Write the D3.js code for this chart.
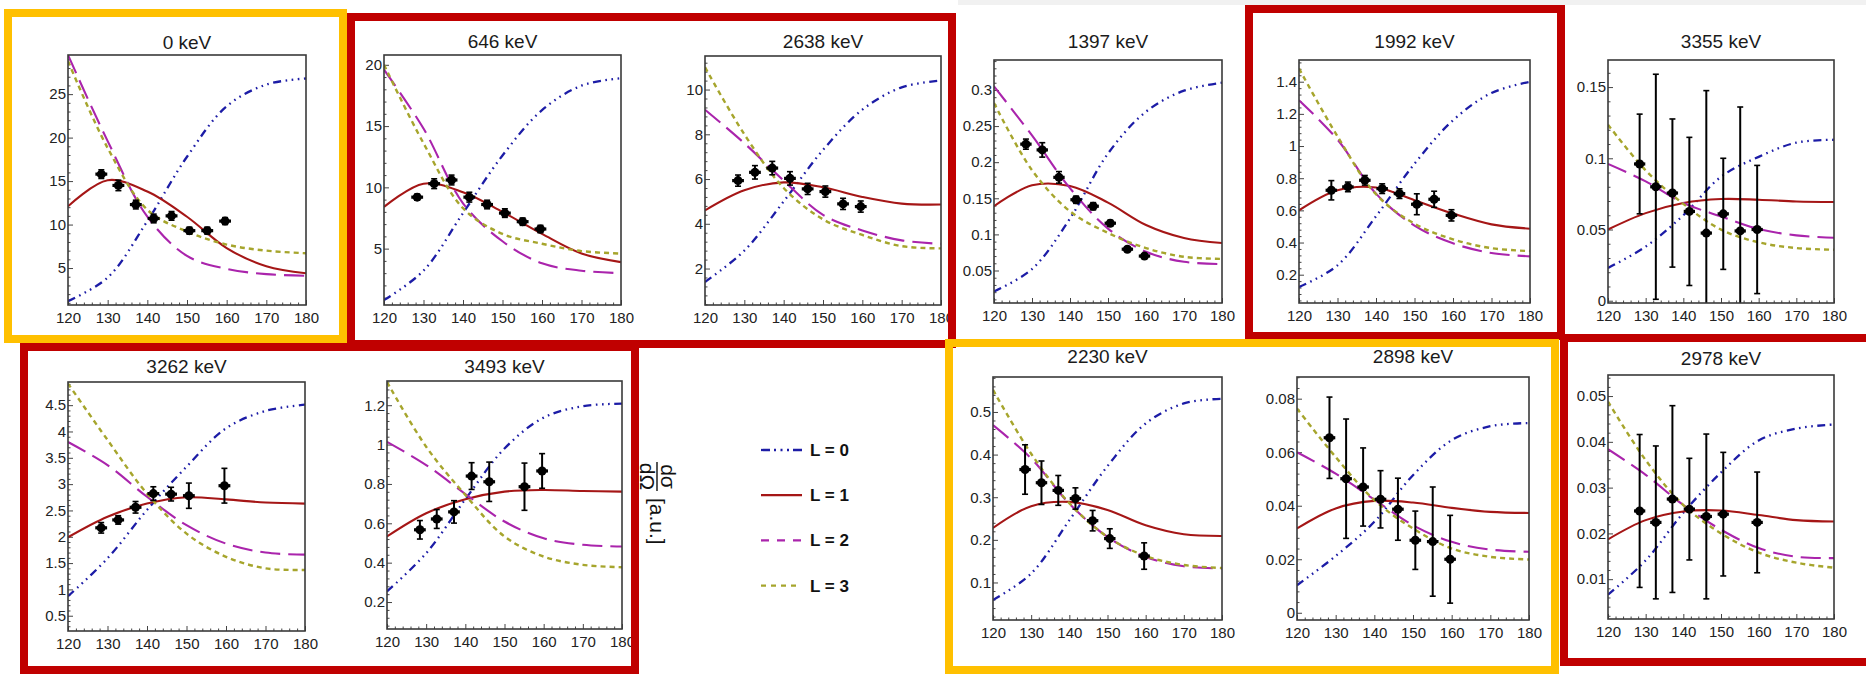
<!DOCTYPE html>
<html><head><meta charset="utf-8">
<script src="https://cdn.jsdelivr.net/npm/d3@7"></script>
<style>body{margin:0;background:#fff}svg{display:block}</style>
</head><body>
<svg id="c" width="1866" height="674"></svg>
<script>
// ---------- data ----------
const curveAngles = [120,130,140,150,160,170,180];
const xTicks = [120,130,140,150,160,170,180];
const xAll   = [128.4,132.7,137.1,141.6,146.1,150.6,155.1,159.6];
const xNo155 = [128.4,132.7,137.1,141.6,146.1,150.6,159.6];
const xNo150 = [128.4,132.7,137.1,141.6,146.1,155.1,159.6];
const xErr = 1.5;
const legendLabels = ["L = 0","L = 1","L = 2","L = 3"];

// 0 keV
const t0 = "0 keV";
const d0_y = [15.8,14.5,12.3,10.7,11.0,9.3,9.3,10.4];
const d0_e = [0.5,0.6,0.5,0.5,0.5,0.4,0.4,0.4];
const d0_L0 = [1.2,3.9,10.4,17.8,23.6,26.1,26.8];
const d0_L1 = [12.1,15.1,13.8,10.9,7.3,5.2,4.4];
const d0_L2 = [29.5,19.6,10.9,6.4,4.9,4.3,4.1];
const d0_L3 = [28.8,18.8,11.7,9.2,7.7,7.0,6.7];
const d0_ticks = [5,10,15,20,25];
const d0_dom = [0.75,29.5];

// 646 keV
const t646 = "646 keV";
const d646_y = [9.2,10.3,10.6,9.2,8.6,7.9,7.2,6.6];
const d646_e = [0.25,0.4,0.4,0.4,0.35,0.35,0.3,0.3];
const d646_L0 = [0.8,3.2,7.9,12.6,16.3,18.3,18.9];
const d646_L1 = [8.4,10.3,9.6,8.0,6.2,4.6,3.9];
const d646_L2 = [19.6,14.8,8.7,5.6,3.8,3.2,3.0];
const d646_L3 = [20.0,13.6,8.3,6.2,5.4,4.8,4.6];
const d646_ticks = [5,10,15,20];
const d646_dom = [0.4,20.8];

// 2638 keV
const t2638 = "2638 keV";
const d2638_y = [5.93,6.30,6.49,6.03,5.56,5.44,4.89,4.77];
const d2638_e = [0.25,0.3,0.3,0.3,0.25,0.25,0.25,0.25];
const d2638_L0 = [1.4,2.8,5.0,7.3,9.1,10.1,10.4];
const d2638_L1 = [4.6,5.5,5.85,5.63,5.2,4.9,4.86];
const d2638_L2 = [9.1,7.6,5.93,4.4,3.7,3.26,3.1];
const d2638_L3 = [11.0,8.0,5.6,4.2,3.5,3.0,2.9];
const d2638_ticks = [2,4,6,8,10];
const d2638_dom = [0.37,11.5];

// 1397 keV
const t1397 = "1397 keV";
const d1397_y = [0.225,0.217,0.179,0.148,0.139,0.1155,0.0795,0.070];
const d1397_e = [0.007,0.01,0.008,0.005,0.005,0.004,0.003,0.003];
const d1397_L0 = [0.021,0.052,0.122,0.212,0.270,0.299,0.310];
const d1397_L1 = [0.139,0.168,0.167,0.144,0.113,0.095,0.088];
const d1397_L2 = [0.305,0.237,0.164,0.108,0.076,0.062,0.059];
const d1397_L3 = [0.282,0.189,0.132,0.102,0.081,0.069,0.066];
const d1397_ticks = [0.05,0.1,0.15,0.2,0.25,0.3];
const d1397_dom = [0.005,0.3415];

// 1992 keV
const t1992 = "1992 keV";
const d1992_y = [0.725,0.746,0.787,0.735,0.704,0.638,0.669,0.569];
const d1992_e = [0.06,0.03,0.03,0.03,0.03,0.065,0.05,0.035];
const d1992_L0 = [0.123,0.258,0.563,0.89,1.16,1.33,1.40];
const d1992_L1 = [0.60,0.725,0.742,0.663,0.58,0.513,0.486];
const d1992_L2 = [1.285,1.04,0.704,0.505,0.395,0.335,0.314];
const d1992_L3 = [1.482,1.06,0.700,0.517,0.42,0.365,0.347];
const d1992_ticks = [0.2,0.4,0.6,0.8,1,1.2,1.4];
const d1992_dom = [0.024,1.535];

// 3355 keV
const t3355 = "3355 keV";
const d3355_y = [0.096,0.080,0.0756,0.0627,0.0475,0.061,0.049,0.050];
const d3355_e = [0.035,0.079,0.052,0.052,0.1,0.039,0.087,0.045];
const d3355_L0 = [0.023,0.038,0.060,0.087,0.101,0.111,0.113];
const d3355_L1 = [0.050,0.0615,0.0686,0.0714,0.0709,0.0697,0.0693];
const d3355_L2 = [0.096,0.0838,0.0686,0.0592,0.0503,0.0459,0.0442];
const d3355_L3 = [0.1236,0.0915,0.068,0.0499,0.041,0.037,0.0358];
const d3355_ticks = [0,0.05,0.1,0.15];
const d3355_dom = [-0.0016,0.169];

// 3262 keV
const t3262 = "3262 keV";
const d3262_y = [2.17,2.32,2.56,2.82,2.81,2.78,2.97];
const d3262_e = [0.1,0.08,0.11,0.13,0.13,0.24,0.33];
const d3262_L0 = [0.87,1.59,2.51,3.33,4.06,4.39,4.51];
const d3262_L1 = [1.99,2.38,2.63,2.75,2.71,2.65,2.63];
const d3262_L2 = [3.80,3.36,2.76,2.22,1.87,1.70,1.66];
const d3262_L3 = [4.91,3.84,2.82,2.06,1.62,1.40,1.37];
const d3262_ticks = [0.5,1,1.5,2,2.5,3,3.5,4,4.5];
const d3262_dom = [0.21,4.94];

// 3493 keV
const t3493 = "3493 keV";
const d3493_y = [0.567,0.622,0.658,0.840,0.811,0.786,0.866];
const d3493_e = [0.047,0.048,0.057,0.068,0.1,0.12,0.088];
const d3493_L0 = [0.254,0.448,0.722,0.980,1.137,1.195,1.208];
const d3493_L1 = [0.533,0.651,0.722,0.761,0.769,0.764,0.761];
const d3493_L2 = [1.014,0.896,0.749,0.609,0.524,0.491,0.482];
const d3493_L3 = [1.318,0.989,0.744,0.533,0.431,0.389,0.377];
const d3493_ticks = [0.2,0.4,0.6,0.8,1,1.2];
const d3493_dom = [0.063,1.323];

// 2230 keV
const t2230 = "2230 keV";
const d2230_y = [0.365,0.334,0.316,0.297,0.245,0.203,0.162];
const d2230_e = [0.058,0.051,0.035,0.025,0.024,0.023,0.031];
const d2230_L0 = [0.059,0.121,0.246,0.373,0.473,0.52,0.531];
const d2230_L1 = [0.228,0.279,0.289,0.27,0.234,0.213,0.209];
const d2230_L2 = [0.469,0.391,0.285,0.207,0.16,0.138,0.133];
const d2230_L3 = [0.552,0.402,0.286,0.207,0.162,0.141,0.134];
const d2230_ticks = [0.1,0.2,0.3,0.4,0.5];
const d2230_dom = [0.012,0.582];

// 2898 keV
const t2898 = "2898 keV";
const d2898_y = [0.0654,0.0501,0.047,0.0424,0.0387,0.0271,0.0266,0.020];
const d2898_e = [0.0152,0.0223,0.0146,0.0107,0.0116,0.0109,0.0204,0.0164];
const d2898_L0 = [0.0103,0.0212,0.034,0.0514,0.0645,0.0697,0.0709];
const d2898_L1 = [0.0315,0.039,0.0418,0.0412,0.0392,0.0377,0.0373];
const d2898_L2 = [0.060,0.052,0.0423,0.0327,0.0265,0.0236,0.0228];
const d2898_L3 = [0.0763,0.0582,0.0421,0.0315,0.024,0.0209,0.0199];
const d2898_ticks = [0,0.02,0.04,0.06,0.08];
const d2898_dom = [-0.0027,0.0881];

// 2978 keV
const t2978 = "2978 keV";
const d2978_y = [0.0249,0.0224,0.0275,0.0253,0.0237,0.0242,0.0224];
const d2978_e = [0.0167,0.0167,0.0204,0.0111,0.018,0.0135,0.011];
const d2978_L0 = [0.0066,0.0141,0.0245,0.0333,0.0403,0.0429,0.0438];
const d2978_L1 = [0.0187,0.0229,0.0248,0.025,0.024,0.0229,0.0226];
const d2978_L2 = [0.0384,0.0328,0.0262,0.0208,0.0168,0.0149,0.0146];
const d2978_L3 = [0.0488,0.036,0.0262,0.02,0.0158,0.0136,0.0125];
const d2978_ticks = [0.01,0.02,0.03,0.04,0.05];
const d2978_dom = [0.0013,0.0546];

// ---------- layout & style (not data) ----------
const panels = [
  {title:t0,    x:xAll,   y:d0_y,    e:d0_e,    L:[d0_L0,d0_L1,d0_L2,d0_L3],             ticks:d0_ticks,    dom:d0_dom,    rect:[68,306,55,305],   ty:49},
  {title:t646,  x:xAll,   y:d646_y,  e:d646_e,  L:[d646_L0,d646_L1,d646_L2,d646_L3],     ticks:d646_ticks,  dom:d646_dom,  rect:[384,621,55,305],  ty:48},
  {title:t2638, x:xAll,   y:d2638_y, e:d2638_e, L:[d2638_L0,d2638_L1,d2638_L2,d2638_L3], ticks:d2638_ticks, dom:d2638_dom, rect:[705,941,56,305],  ty:48},
  {title:t1397, x:xAll,   y:d1397_y, e:d1397_e, L:[d1397_L0,d1397_L1,d1397_L2,d1397_L3], ticks:d1397_ticks, dom:d1397_dom, rect:[994,1222,60,303], ty:48},
  {title:t1992, x:xAll,   y:d1992_y, e:d1992_e, L:[d1992_L0,d1992_L1,d1992_L2,d1992_L3], ticks:d1992_ticks, dom:d1992_dom, rect:[1299,1530,60,303],ty:48},
  {title:t3355, x:xAll,   y:d3355_y, e:d3355_e, L:[d3355_L0,d3355_L1,d3355_L2,d3355_L3], ticks:d3355_ticks, dom:d3355_dom, rect:[1608,1834,60,303],ty:48},
  {title:t3262, x:xNo155, y:d3262_y, e:d3262_e, L:[d3262_L0,d3262_L1,d3262_L2,d3262_L3], ticks:d3262_ticks, dom:d3262_dom, rect:[68,305,382,631],  ty:373},
  {title:t3493, x:xNo150, y:d3493_y, e:d3493_e, L:[d3493_L0,d3493_L1,d3493_L2,d3493_L3], ticks:d3493_ticks, dom:d3493_dom, rect:[387,622,381,629], ty:373},
  {title:t2230, x:xNo155, y:d2230_y, e:d2230_e, L:[d2230_L0,d2230_L1,d2230_L2,d2230_L3], ticks:d2230_ticks, dom:d2230_dom, rect:[993,1222,377,620],ty:363},
  {title:t2898, x:xAll,   y:d2898_y, e:d2898_e, L:[d2898_L0,d2898_L1,d2898_L2,d2898_L3], ticks:d2898_ticks, dom:d2898_dom, rect:[1297,1529,377,620],ty:363},
  {title:t2978, x:xNo155, y:d2978_y, e:d2978_e, L:[d2978_L0,d2978_L1,d2978_L2,d2978_L3], ticks:d2978_ticks, dom:d2978_dom, rect:[1608,1834,375,619],ty:365}
];
const curveStyles = [
  {color:"#1c1ca6", dash:"8,4.5,1.6,4.5,1.6,4.5,1.6,4.5", width:2.3, legDash:"9,4,2,4.5,2,4.5,2,4"},
  {color:"#a51616", dash:null,          width:2.1, legDash:null},
  {color:"#aa24ac", dash:"20,8",        width:2.1, legDash:"8,8"},
  {color:"#a6a52c", dash:"5,4",         width:2.4, legDash:"5,5"}
];
const frames = [
  {c:"#ffc000", x0:8,    y0:13,  x1:343,  y1:339},
  {c:"#c00000", x0:351,  y0:17,  x1:952,  y1:344},
  {c:"#c00000", x0:1249, y0:9,   x1:1561, y1:336},
  {c:"#c00000", x0:24,   y0:347, x1:635,  y1:670},
  {c:"#ffc000", x0:949,  y0:343, x1:1555, y1:670},
  {c:"#c00000", x0:1564, y0:338, x1:1872, y1:662}
];
const FONT = "'Liberation Sans', Arial, Helvetica, sans-serif";

const svg = d3.select("#c");
const defs = svg.append("defs");
svg.append("rect").attr("x",958).attr("y",0).attr("width",908).attr("height",5).attr("fill","#f1f1f1");

function minorTicks(domain, majors){
  const step = (majors[1]-majors[0])/5;
  const a = Math.ceil(domain[0]/step - 1e-9), b = Math.floor(domain[1]/step + 1e-9);
  return d3.range(a,b+1).map(k=>+(k*step).toFixed(8))
    .filter(v=>!majors.some(m=>Math.abs(m-v)<step*1e-3));
}

panels.forEach((p,i)=>{
  const [x0,x1,y0,y1] = p.rect;
  const x = d3.scaleLinear().domain([120,180]).range([x0,x1]);
  const y = d3.scaleLinear().domain(p.dom).range([y1,y0]);
  const g = svg.append("g");
  const cid = "clip"+i;
  defs.append("clipPath").attr("id",cid).append("rect")
    .attr("x",x0).attr("y",y0).attr("width",x1-x0).attr("height",y1-y0);

  g.append("text").attr("x",(x0+x1)/2).attr("y",p.ty).attr("text-anchor","middle")
    .attr("font-family",FONT).attr("font-size",19).attr("fill","#1b1b1b").text(p.title);

  const xa = g.append("g").attr("transform",`translate(0,${y1})`)
    .call(d3.axisBottom(x).tickValues(xTicks).tickSize(-5).tickPadding(7).tickFormat(d=>String(d)));
  const xm = g.append("g").attr("transform",`translate(0,${y1})`)
    .call(d3.axisBottom(x).tickValues(minorTicks([120,180],xTicks)).tickSize(-2.5).tickFormat(""));
  const ya = g.append("g").attr("transform",`translate(${x0},0)`)
    .call(d3.axisLeft(y).tickValues(p.ticks).tickSize(-5).tickPadding(2).tickFormat(d=>String(d)));
  const ym = g.append("g").attr("transform",`translate(${x0},0)`)
    .call(d3.axisLeft(y).tickValues(minorTicks(p.dom,p.ticks)).tickSize(-2.5).tickFormat(""));
  [xa,xm,ya,ym].forEach(a=>{
    a.select(".domain").remove();
    a.selectAll("line").attr("stroke","#444").attr("stroke-width",1);
    a.selectAll("text").attr("font-family",FONT).attr("font-size",15).attr("fill","#222");
  });

  const cg = g.append("g").attr("clip-path",`url(#${cid})`);
  p.L.forEach((vals,k)=>{
    const st = curveStyles[k];
    const line = d3.line().x(d=>x(d[0])).y(d=>y(d[1])).curve(d3.curveCatmullRom.alpha(0.5));
    cg.append("path").attr("d",line(curveAngles.map((a,j)=>[a,vals[j]])))
      .attr("fill","none").attr("stroke",st.color).attr("stroke-width",st.width)
      .attr("stroke-dasharray",st.dash);
  });

  const dg = g.append("g").attr("clip-path",`url(#${cid})`);
  p.x.forEach((a,j)=>{
    const v = p.y[j], e = p.e[j];
    const cx = x(a), cy = y(v), yt = y(v+e), yb = y(v-e);
    dg.append("line").attr("x1",cx).attr("x2",cx).attr("y1",yt).attr("y2",yb)
      .attr("stroke","#000").attr("stroke-width",2);
    [yt,yb].forEach(yy=>dg.append("line").attr("x1",cx-3).attr("x2",cx+3).attr("y1",yy).attr("y2",yy)
      .attr("stroke","#000").attr("stroke-width",1.6));
    dg.append("line").attr("x1",x(a-xErr)).attr("x2",x(a+xErr)).attr("y1",cy).attr("y2",cy)
      .attr("stroke","#000").attr("stroke-width",3.2);
    dg.append("circle").attr("cx",cx).attr("cy",cy).attr("r",4.5).attr("fill","#000");
  });

  g.append("rect").attr("x",x0).attr("y",y0).attr("width",x1-x0).attr("height",y1-y0)
    .attr("fill","none").attr("stroke","#3a3a3a").attr("stroke-width",1.6);
});

// axis title dσ/dΩ [a.u.]
const at = svg.append("g").attr("transform","translate(657,462) rotate(90)")
  .attr("font-family",FONT).attr("fill","#111");
at.append("text").attr("x",14.5).attr("y",-4).attr("text-anchor","middle").attr("font-size",21).text("dσ");
at.append("line").attr("x1",0).attr("x2",29).attr("y1",0).attr("y2",0).attr("stroke","#111").attr("stroke-width",1.4);
at.append("text").attr("x",14.5).attr("y",17).attr("text-anchor","middle").attr("font-size",21).text("dΩ");
at.append("text").attr("x",36).attr("y",0).attr("dominant-baseline","central").attr("font-size",21).text("[a.u.]");

// legend
const lg = svg.append("g");
legendLabels.forEach((lab,k)=>{
  const yy = 450 + k*45.2;
  const st = curveStyles[k];
  lg.append("line").attr("x1",761).attr("x2",k===3?797:802).attr("y1",yy).attr("y2",yy)
    .attr("stroke",st.color).attr("stroke-width",2.3).attr("stroke-dasharray",st.legDash);
  lg.append("text").attr("x",810).attr("y",yy+6).attr("font-family",FONT).attr("font-weight","bold")
    .attr("font-size",17).attr("fill","#111").text(lab);
});

frames.forEach(f=>{
  svg.append("rect").attr("x",f.x0).attr("y",f.y0).attr("width",f.x1-f.x0).attr("height",f.y1-f.y0)
    .attr("fill","none").attr("stroke",f.c).attr("stroke-width",8);
});
</script>
</body></html>
